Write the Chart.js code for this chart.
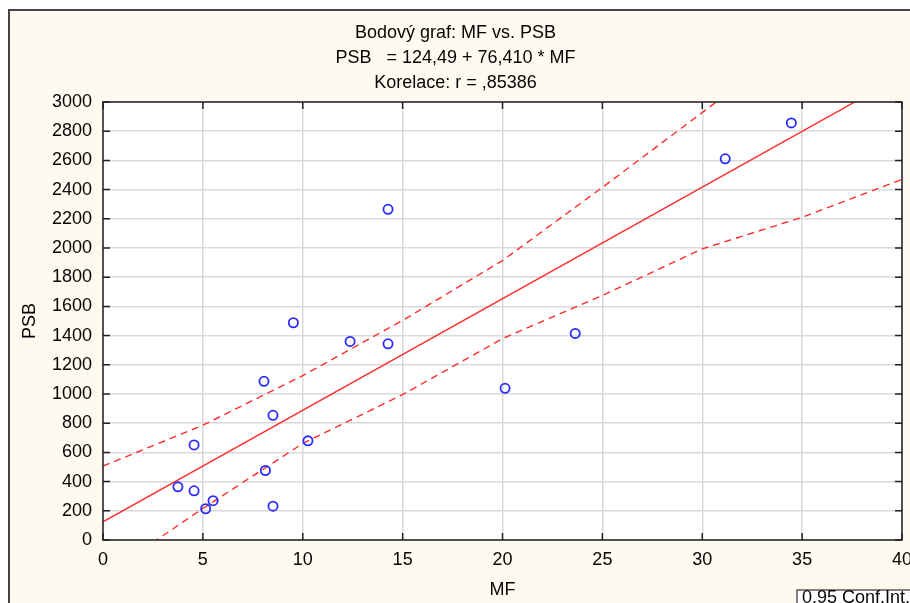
<!DOCTYPE html>
<html>
<head>
<meta charset="utf-8">
<script src="https://cdn.jsdelivr.net/npm/chart.js@4/dist/chart.umd.min.js"></script>
<style>
  html, body { margin: 0; padding: 0; background: #ffffff; }
  canvas { display: block; }
</style>
</head>
<body>
<canvas id="c" width="910" height="603"></canvas>
<script>
// ---- Data ----
const titleLines = ["Bodový graf: MF vs. PSB", "PSB   = 124,49 + 76,410 * MF", "Korelace: r = ,85386"];
const xAxisTitle = "MF";
const yAxisTitle = "PSB";
const legendLabel = "0,95 Conf.Int.";

const mfValues  = [3.75, 4.56, 4.56, 5.14, 5.51, 8.06, 8.13, 8.51, 8.51, 9.53, 10.26, 12.37, 14.27, 14.27, 20.13, 23.64, 31.15, 34.46];
const psbValues = [364, 651, 337, 214, 269, 1087, 476, 854, 232, 1488, 679, 1360, 1344, 2265, 1039, 1415, 2611, 2857];

// regression line endpoints (PSB = 124,49 + 76,410 * MF)
const fitX = [0, 40];
const fitY = [124.49, 3180.89];

// 0.95 confidence band
const upperX = [0, 5, 10, 15, 20, 25, 30, 35];
const upperY = [506, 786, 1126, 1504, 1914, 2415, 2928, 3440];
const lowerX = [0, 5, 10, 15, 20, 25, 30, 35, 40];
const lowerY = [-250, 216, 661, 996, 1379, 1675, 1994, 2210, 2470];

const xTickMin = 0, xTickMax = 40, xTickStep = 5;
const yTickMin = 0, yTickMax = 3000, yTickStep = 200;

// ---- helpers ----
const toXY = (xs, ys) => xs.map((x, i) => ({ x: x, y: ys[i] }));
const FONT = "'Liberation Sans', Arial, sans-serif";
const FS = 18;
const CREAM = '#fffaef';
const RED = '#ff2b2b';
const BLUE = '#2b2bff';
const TXT = '#050505';

const framePlugin = {
  id: 'frame',
  beforeDraw(chart) {
    const ctx = chart.ctx;
    const a = chart.chartArea;
    ctx.save();
    ctx.fillStyle = '#ffffff';
    ctx.fillRect(0, 0, chart.width, chart.height);
    ctx.fillStyle = CREAM;
    ctx.fillRect(9, 10, chart.width - 9, chart.height - 10);
    ctx.strokeStyle = '#444444';
    ctx.lineWidth = 2;
    ctx.beginPath();
    ctx.moveTo(9, chart.height);
    ctx.lineTo(9, 10);
    ctx.lineTo(chart.width, 10);
    ctx.stroke();
    ctx.fillStyle = '#ffffff';
    ctx.fillRect(a.left, a.top, a.right - a.left, a.bottom - a.top);
    ctx.restore();
  },
  afterDraw(chart) {
    const ctx = chart.ctx;
    const a = chart.chartArea;
    const xs = chart.scales.x, ys = chart.scales.y;
    ctx.save();
    ctx.strokeStyle = '#222222';
    ctx.lineWidth = 1.5;
    ctx.strokeRect(a.left, a.top, a.right - a.left, a.bottom - a.top);
    ctx.beginPath();
    xs.ticks.forEach(t => {
      const px = xs.getPixelForValue(t.value);
      ctx.moveTo(px, a.bottom); ctx.lineTo(px, a.bottom - 7);
      ctx.moveTo(px, a.top); ctx.lineTo(px, a.top + 7);
    });
    ys.ticks.forEach(t => {
      const py = ys.getPixelForValue(t.value);
      ctx.moveTo(a.left, py); ctx.lineTo(a.left + 7, py);
      ctx.moveTo(a.right, py); ctx.lineTo(a.right - 7, py);
    });
    ctx.stroke();
    // legend box (cut by the bottom edge, as in the reference)
    ctx.fillStyle = '#ffffff';
    ctx.fillRect(797, 590, 120, 30);
    ctx.strokeStyle = '#333333';
    ctx.lineWidth = 1.2;
    ctx.strokeRect(797, 590, 120, 30);
    ctx.fillStyle = TXT;
    ctx.font = FS + 'px ' + FONT;
    ctx.textBaseline = 'alphabetic';
    ctx.textAlign = 'left';
    ctx.fillText(legendLabel, 802, 603);
    ctx.restore();
  }
};

new Chart(document.getElementById('c'), {
  type: 'scatter',
  data: {
    datasets: [
      {
        label: 'MF vs. PSB',
        data: toXY(mfValues, psbValues),
        pointStyle: 'circle',
        pointRadius: 4.6,
        pointBorderWidth: 1.8,
        borderColor: BLUE,
        backgroundColor: 'rgba(0,0,0,0)',
        showLine: false
      },
      {
        label: 'Regrese',
        data: toXY(fitX, fitY),
        showLine: true,
        pointRadius: 0,
        borderColor: RED,
        borderWidth: 1.4,
        clip: 0
      },
      {
        label: 'Horní mez',
        data: toXY(upperX, upperY),
        showLine: true,
        pointRadius: 0,
        borderColor: RED,
        borderWidth: 1.4,
        borderDash: [7, 5],
        clip: 0
      },
      {
        label: 'Dolní mez',
        data: toXY(lowerX, lowerY),
        showLine: true,
        pointRadius: 0,
        borderColor: RED,
        borderWidth: 1.4,
        borderDash: [7, 5],
        clip: 0
      }
    ]
  },
  options: {
    responsive: false,
    animation: false,
    events: [],
    layout: { padding: { left: 9, right: 8, top: 10, bottom: 0 } },
    plugins: {
      legend: { display: false },
      tooltip: { enabled: false },
      title: {
        display: true,
        text: titleLines,
        color: TXT,
        font: { family: FONT, size: FS, weight: 'normal', lineHeight: 25 / FS },
        padding: { top: 11, bottom: 6 }
      }
    },
    scales: {
      x: {
        type: 'linear',
        min: xTickMin, max: xTickMax,
        ticks: { stepSize: xTickStep, padding: 9, color: TXT, font: { family: FONT, size: FS },
                 callback: v => String(v) },
        grid: { color: '#d9d9d9', lineWidth: 1.5, drawTicks: false },
        border: { display: false },
        title: { display: true, text: xAxisTitle, color: TXT, font: { family: FONT, size: FS }, padding: { top: 0, bottom: 2 } },
        afterFit: s => { s.height = 63; s.paddingLeft = 0; s.paddingRight = 0; }
      },
      y: {
        type: 'linear',
        min: yTickMin, max: yTickMax,
        ticks: { stepSize: yTickStep, padding: 11, color: TXT, font: { family: FONT, size: FS },
                 callback: v => String(v) },
        grid: { color: '#d9d9d9', lineWidth: 1.5, drawTicks: false },
        border: { display: false },
        title: { display: true, text: yAxisTitle, color: TXT, font: { family: FONT, size: FS }, padding: { top: 10, bottom: 0 } },
        afterFit: s => { s.width = 94; s.paddingTop = 0; s.paddingBottom = 0; }
      }
    }
  },
  plugins: [framePlugin]
});
</script>
</body>
</html>
